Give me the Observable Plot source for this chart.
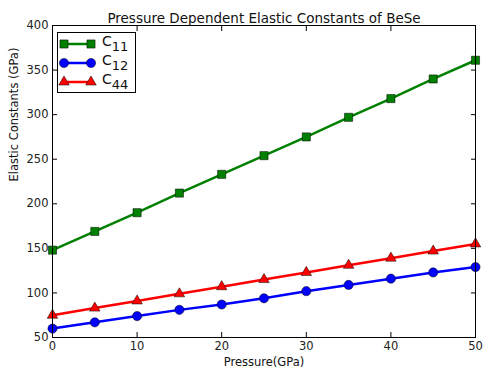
<!DOCTYPE html>
<html>
<head>
<meta charset="utf-8">
<script src="https://cdn.jsdelivr.net/npm/d3@7"></script>
<script src="https://cdn.jsdelivr.net/npm/@observablehq/plot@0.6"></script>
<style>
  html, body { margin: 0; padding: 0; background: #fff; }
  #wrap { position: relative; width: 483px; height: 370px; font-family: "DejaVu Sans", sans-serif; }
  #legend { position: absolute; left: 57px; top: 32px; width: 79px; height: 61px; border: 1px solid #000; background: #fff; box-sizing: border-box; }
  #legend svg { overflow: visible; }
</style>
</head>
<body>
<div id="wrap"></div>
<script>
const pressure = [0, 5, 10, 15, 20, 25, 30, 35, 40, 45, 50];
const c11 = [148, 169, 190, 212, 233, 254, 275, 297, 318, 340, 361];
const c12 = [60, 67, 74, 81, 87, 94, 102, 109, 116, 123, 129];
const c44 = [75, 83, 91, 99, 107, 115, 123, 131, 139, 147, 155];
const seriesNames = ["C11", "C12", "C44"];
const seriesSubs = ["11", "12", "44"];
const seriesColors = ["#008000", "#0000ff", "#ff0000"];
const seriesSymbols = ["square", "circle", "triangle"];
const seriesR = [4.6, 4.6, 3.9];
const xTicks = [0, 10, 20, 30, 40, 50];
const yTicks = [50, 100, 150, 200, 250, 300, 350, 400];
const titleText = "Pressure Dependent Elastic Constants of BeSe";
const xLabel = "Pressure(GPa)";
const yLabel = "Elastic Constants (GPa)";

const values = [c11, c12, c44];
const rows = [];
seriesNames.forEach((s, i) => pressure.forEach((p, j) => rows.push({series: s, p, v: values[i][j]})));

const font = "DejaVu Sans";
const chart = Plot.plot({
  width: 483,
  height: 370,
  marginLeft: 52,
  marginRight: 8,
  marginTop: 25,
  marginBottom: 33,
  style: {fontFamily: font, fontSize: "11px", color: "#000", background: "#fff"},
  x: {domain: [0, 50], ticks: xTicks},
  y: {domain: [50, 400], ticks: yTicks},
  color: {domain: seriesNames, range: seriesColors},
  symbol: {domain: seriesNames, range: seriesSymbols},
  marks: [
    Plot.axisX(xTicks, {anchor: "bottom", tickSize: -5, tickPadding: 9, label: null, fontSize: 11.5, fill: "#222"}),
    Plot.axisX(xTicks, {anchor: "top", tickSize: -5, tickFormat: () => "", label: null}),
    Plot.axisY(yTicks, {anchor: "left", tickSize: -5, tickPadding: 9, label: null, fontSize: 11.5, fill: "#222"}),
    Plot.axisY(yTicks, {anchor: "right", tickSize: -5, tickFormat: () => "", label: null}),
    Plot.line(rows, {x: "p", y: "v", z: "series", stroke: "series", strokeWidth: 2.5}),
    ...seriesNames.map((s, i) => Plot.dot(rows.filter(d => d.series === s), {x: "p", y: "v", symbol: "series", fill: "series", stroke: "#000", strokeWidth: 0.5, r: seriesR[i]})),
    Plot.frame({stroke: "#000", strokeWidth: 1}),
    Plot.text([titleText], {frameAnchor: "top", dy: -12, fontSize: 13.5, fill: "#111"}),
    Plot.text([xLabel], {frameAnchor: "bottom", dy: 28, fontSize: 11.5, fill: "#111"}),
    Plot.text([yLabel], {frameAnchor: "left", dx: -38, rotate: -90, fontSize: 11.5, fill: "#111"})
  ]
});
const wrap = document.getElementById("wrap");
wrap.appendChild(chart);

// legend
const lg = document.createElement("div");
lg.id = "legend";
const ns = "http://www.w3.org/2000/svg";
const svg = document.createElementNS(ns, "svg");
svg.setAttribute("width", 77);
svg.setAttribute("height", 59);
svg.style.position = "absolute";
svg.style.left = "0px";
svg.style.top = "0px";
seriesNames.forEach((s, i) => {
  const y = 11 + i * 19;
  const line = document.createElementNS(ns, "line");
  line.setAttribute("x1", 6); line.setAttribute("x2", 33);
  line.setAttribute("y1", y); line.setAttribute("y2", y);
  line.setAttribute("stroke", seriesColors[i]); line.setAttribute("stroke-width", 2.5);
  svg.appendChild(line);
  const sym = d3.symbol(seriesSymbols[i] === "square" ? d3.symbolSquare : seriesSymbols[i] === "circle" ? d3.symbolCircle : d3.symbolTriangle, seriesR[i] * seriesR[i] * Math.PI)();
  [6, 33].forEach(x => {
    const p = document.createElementNS(ns, "path");
    p.setAttribute("d", sym);
    p.setAttribute("transform", `translate(${x},${y})`);
    p.setAttribute("fill", seriesColors[i]);
    p.setAttribute("stroke", "#000");
    p.setAttribute("stroke-width", 0.5);
    svg.appendChild(p);
  });
  const t = document.createElementNS(ns, "text");
  t.setAttribute("x", 44); t.setAttribute("y", y + 2);
  t.setAttribute("font-family", font); t.setAttribute("font-size", 14);
  t.setAttribute("fill", "#111");
  t.textContent = "C";
  const sub = document.createElementNS(ns, "tspan");
  sub.setAttribute("dy", 5); sub.setAttribute("font-size", 13);
  sub.textContent = seriesSubs[i];
  t.appendChild(sub);
  svg.appendChild(t);
});
lg.appendChild(svg);
wrap.appendChild(lg);
</script>
</body>
</html>
